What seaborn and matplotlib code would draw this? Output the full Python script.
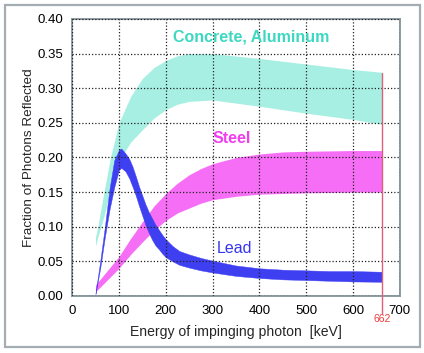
import numpy as np
import pandas as pd
import matplotlib
matplotlib.use("Agg")
import matplotlib.pyplot as plt
from matplotlib.patches import Rectangle
import seaborn as sns

# Concrete / Aluminum band
conc_x = [50, 55, 68, 82, 100, 125, 150, 175, 200, 225, 250, 300, 400, 500, 600, 662]
conc_hi = [0.085, 0.10, 0.15, 0.20, 0.25, 0.288, 0.314, 0.33, 0.34, 0.347, 0.35, 0.35,
           0.343, 0.335, 0.327, 0.323]
conc_lo = [0.072, 0.085, 0.115, 0.152, 0.195, 0.222, 0.24, 0.257, 0.269, 0.277, 0.281, 0.283,
           0.274, 0.264, 0.255, 0.248]

# Steel band
steel_x = [50, 100, 125, 150, 175, 200, 225, 250, 275, 300, 350, 400, 450, 500, 600, 662]
steel_hi = [0.016, 0.057, 0.083, 0.107, 0.13, 0.148, 0.163, 0.175, 0.184, 0.191, 0.2, 0.205,
            0.208, 0.209, 0.21, 0.21]
steel_lo = [0.006, 0.04, 0.06, 0.078, 0.095, 0.109, 0.12, 0.127, 0.134, 0.139, 0.144, 0.147,
            0.148, 0.149, 0.15, 0.15]

# Lead band
lead_x = [50, 60, 70, 80, 90, 100, 105, 114, 122, 129, 136, 143, 150, 157, 164, 171, 178,
          186, 193, 200, 215, 229, 250, 275, 300, 350, 400, 450, 500, 550, 600, 662]
lead_hi = [0.004, 0.05, 0.10, 0.155, 0.196, 0.211, 0.213, 0.206, 0.198, 0.187, 0.173, 0.158,
           0.145, 0.132, 0.121, 0.112, 0.103, 0.095, 0.088, 0.082, 0.072, 0.065, 0.060, 0.055,
           0.051, 0.044, 0.040, 0.038, 0.037, 0.036, 0.036, 0.035]
lead_lo = [0.003, 0.04, 0.085, 0.125, 0.157, 0.182, 0.185, 0.18, 0.17, 0.158, 0.145, 0.13,
           0.116, 0.102, 0.091, 0.081, 0.073, 0.067, 0.061, 0.056, 0.05, 0.045, 0.041, 0.037,
           0.034, 0.029, 0.026, 0.024, 0.023, 0.022, 0.021, 0.0205]

x_ticks = [0, 100, 200, 300, 400, 500, 600, 700]
y_ticks = [0.0, 0.05, 0.10, 0.15, 0.20, 0.25, 0.30, 0.35, 0.40]

sns.set_style("white")
plt.rcParams['font.family'] = ['Liberation Sans', 'DejaVu Sans']

fig = plt.figure(figsize=(4.24, 3.53), dpi=100)
ax = fig.add_axes([0.170, 0.1615, 0.773, 0.7847])

grey = '#8c9ba1'

# outer frame
fig.patches.append(Rectangle((0.012, 0.018), 0.978, 0.968, transform=fig.transFigure,
                             fill=False, edgecolor='#a3adb2', linewidth=1.6))

ax.fill_between(conc_x, conc_lo, conc_hi, color='#a8efe3', linewidth=0, zorder=1)
ax.fill_between(steel_x, steel_lo, steel_hi, color='#f66ef5', linewidth=0, zorder=1)
ax.fill_between(lead_x, lead_lo, lead_hi, color='#3f3ff2', linewidth=0.3,
                edgecolor='#3f3ff2', zorder=2)

ax.set_xlim(0, 700)
ax.set_ylim(0, 0.40)
ax.set_xticks(x_ticks)
ax.set_yticks(y_ticks)
ax.set_yticklabels([f"{v:.2f}" for v in y_ticks])
ax.tick_params(axis='both', labelsize=9.5, colors='black', length=3, width=1,
               direction='out', color=grey)

ax.grid(True, color='#222222', linestyle=(0, (1, 1.6)), linewidth=0.9)
ax.set_axisbelow(False)
for s in ax.spines.values():
    s.set_color(grey)
    s.set_linewidth(1.4)

ax.set_xlabel('Energy of impinging photon  [keV]', fontsize=10.1, labelpad=6)
ax.set_ylabel('Fraction of Photons Reflected', fontsize=9.7, labelpad=1.5)

# 662 keV marker
ax.plot([662, 662], [0.322, -0.026], color='#e0607a', linewidth=1, clip_on=False, zorder=5)
ax.text(662, -0.033, '662', color='#f03a3a', fontsize=7.5, ha='center', va='center',
        clip_on=False)

ax.text(383, 0.374, 'Concrete, Aluminum', color='#3dd8c2', fontsize=11.5,
        fontweight='bold', ha='center', va='center')
ax.text(301, 0.228, 'Steel', color='#f23cef', fontsize=11.5, fontweight='bold',
        ha='left', va='center')
ax.text(309, 0.068, 'Lead', color='#3535ee', fontsize=11.5, ha='left', va='center')

fig.savefig('out.png', dpi=100)
